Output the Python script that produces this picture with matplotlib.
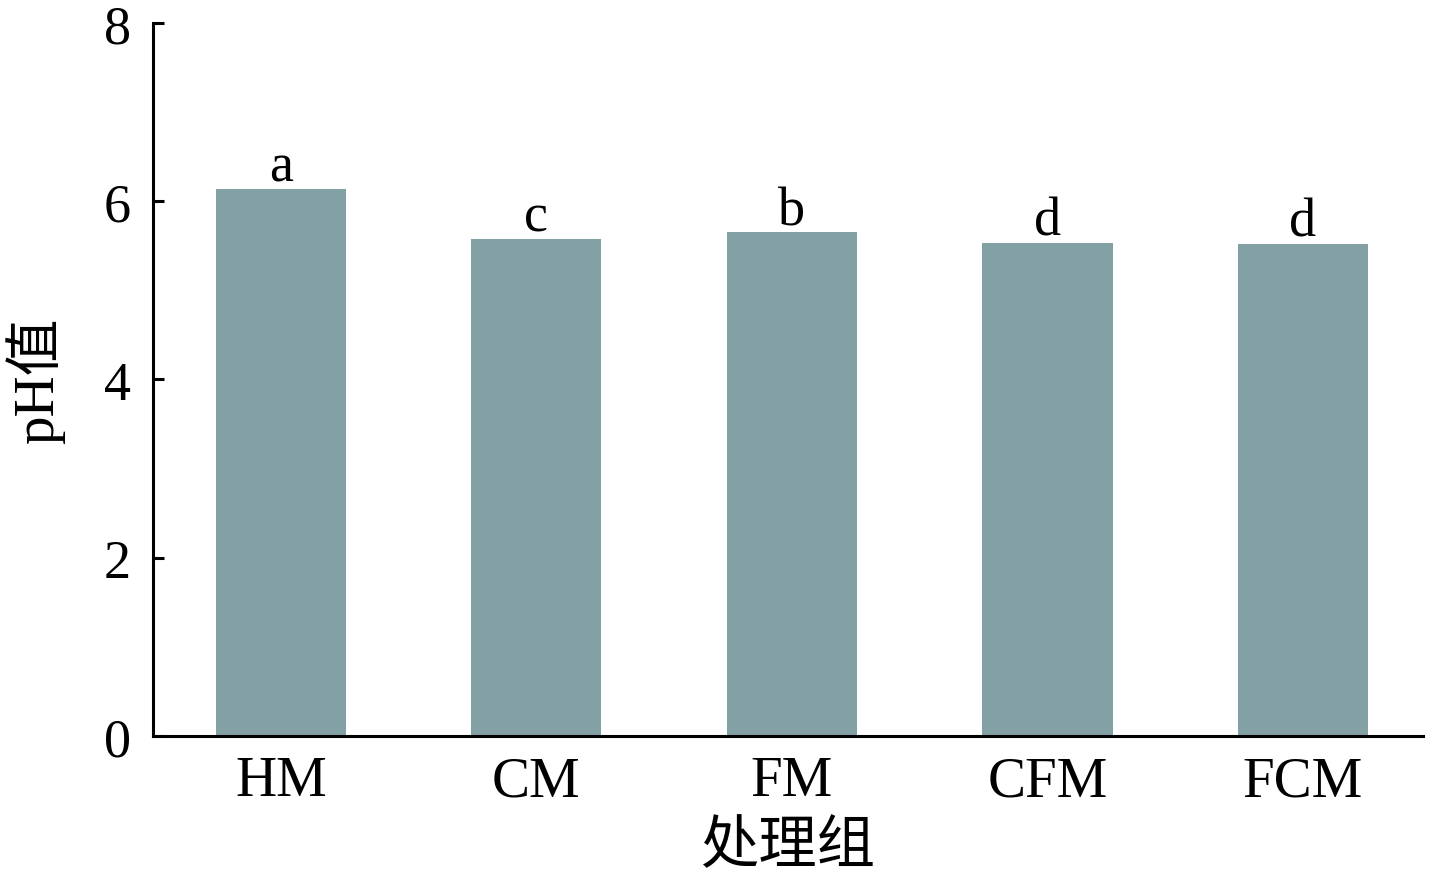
import matplotlib
matplotlib.use("Agg")
import matplotlib.pyplot as plt

categories = ["HM", "CM", "FM", "CFM", "FCM"]
ph_values = [6.14, 5.58, 5.65, 5.53, 5.52]
sig_letters = ["a", "c", "b", "d", "d"]
yticks = [0, 2, 4, 6, 8]

fam = ["Liberation Serif", "Noto Sans CJK SC"]
plt.rcParams["font.family"] = fam

fig = plt.figure(figsize=(14.33, 8.78), dpi=100)
ax = fig.add_axes([0.1068, 0.1606, 0.993 - 0.1068, 0.9727 - 0.1606])

x = list(range(len(categories)))
bars = ax.bar(x, ph_values, width=0.51, color="#83A0A4")

for xi, v, s in zip(x, ph_values, sig_letters):
    ax.annotate(s, (xi, v), xytext=(0, 6), textcoords="offset points",
                ha="center", va="baseline", fontsize=39)

ax.set_xlim(-0.5, 4.47)
ax.set_ylim(0, 8)
ax.set_yticks(yticks)
ax.set_xticks(x)
ax.set_xticklabels(categories)
ax.spines["top"].set_visible(False)
ax.spines["right"].set_visible(False)
for sp in ["left", "bottom"]:
    ax.spines[sp].set_linewidth(2.2)
ax.tick_params(axis="y", direction="in", length=8, width=2.2, labelsize=39, pad=16)
ax.tick_params(axis="x", length=0, labelsize=41, pad=14)

ax.set_ylabel("pH值", fontsize=41, labelpad=28)
ax.set_xlabel("处理组", fontsize=42, labelpad=9)

fig.savefig("out.png", dpi=100)
